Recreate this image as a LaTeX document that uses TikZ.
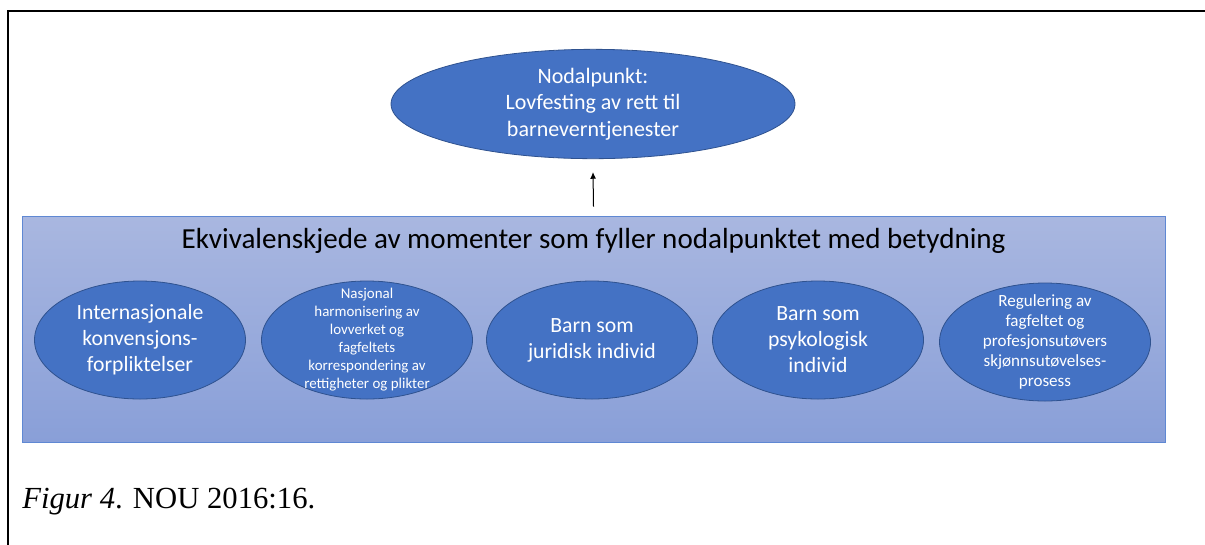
\documentclass[tikz,border=0pt]{standalone}
\usepackage{fontspec}
\setmainfont{Carlito}
\newfontfamily\capfont{Liberation Serif}
\usepackage{tikz}
\usetikzlibrary{arrows.meta,positioning,shapes.geometric}

\definecolor{ellfill}{HTML}{4472C4}
\definecolor{elldraw}{HTML}{2F528F}
\definecolor{boxtop}{HTML}{A9B7E0}
\definecolor{boxbottom}{HTML}{899FD8}
\definecolor{boxdraw}{HTML}{5F88D3}

\tikzset{
  moment/.style={ellipse,draw=elldraw,line width=0.6pt,fill=ellfill,inner sep=0pt,
    minimum width=158.25pt,minimum height=88.5pt},
  momtext/.style={text=white,align=center,inner sep=0pt},
  chainbox/.style={rectangle,draw=boxdraw,line width=0.6pt,top color=boxtop,bottom color=boxbottom,
    inner sep=0pt,minimum width=857.25pt,minimum height=169.5pt}
}

\begin{document}
\begin{tikzpicture}[x=0.75pt,y=-0.75pt]
  \useasboundingbox (0,0) rectangle (1205,544);
  % Frame of the page
  \draw[line width=2pt] (1210,11) -- (8,11) -- (8,550);
  % The equivalence chain with its moments
  \path (593.5,329) node[chainbox] (chain) {};
  \path (593.5,241) node[font=\fontsize{21.8pt}{26pt}\selectfont] (chaintitle)
    {Ekvivalenskjede av momenter som fyller nodalpunktet med betydning};
  \path (140,340) node[moment,label={[momtext,font=\fontsize{16.3pt}{19.5pt}\selectfont]center:{Internasjonale\\konvensjons-\\forpliktelser}}] (M1) {};
  \path (367,340) node[moment,label={[momtext,font=\fontsize{11.2pt}{13.5pt}\selectfont]center:{Nasjonal\\harmonisering av\\lovverket og\\fagfeltets\\korrespondering av\\rettigheter og plikter}}] (M2) {};
  \path (592,340) node[moment,label={[momtext,font=\fontsize{16.3pt}{19.5pt}\selectfont]center:{Barn som\\juridisk individ}}] (M3) {};
  \path (818,340) node[moment,label={[momtext,font=\fontsize{16.3pt}{19.5pt}\selectfont]center:{Barn som\\psykologisk\\individ}}] (M4) {};
  \path (1045,342) node[moment,label={[momtext,font=\fontsize{12.8pt}{15pt}\selectfont]center:{Regulering av\\fagfeltet og\\profesjonsutøvers\\skjønnsutøvelses-\\prosess}}] (M5) {};
  % The nodal point
  \path (593,104) node[moment,minimum width=303pt,minimum height=82pt,
    label={[momtext,font=\fontsize{16.5pt}{20pt}\selectfont]center:{Nodalpunkt:\\Lovfesting av rett til\\barneverntjenester}}] (nodal) {};
  \draw[line width=0.75pt,-{Latex[length=5pt,width=4.5pt]}] ([yshift=6.75pt]chain.north) -- ([yshift=-9.75pt]nodal.south);
  % Caption
  \path (22,508) node[anchor=base west,inner sep=0pt,font=\capfont\fontsize{23pt}{27pt}\selectfont] (caption)
    {\textit{Figur 4}. NOU 2016:16.};
\end{tikzpicture}
\end{document}
